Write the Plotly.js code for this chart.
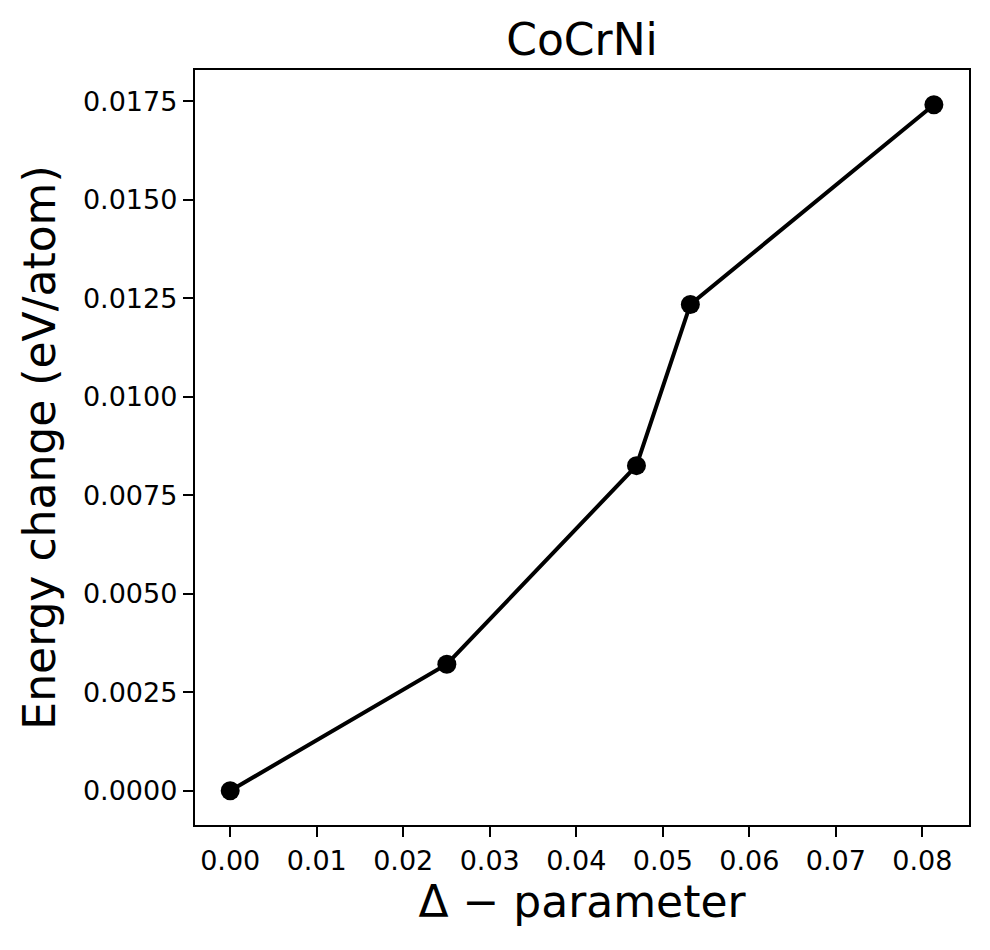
<!DOCTYPE html>
<html>
<head>
<meta charset="utf-8">
<script src="https://cdn.plot.ly/plotly-3.0.1.min.js"></script>
<style>
  html, body { margin: 0; padding: 0; background: #fff; }
  #plot { width: 990px; height: 950px; }
</style>
</head>
<body>
<div id="plot"></div>
<script>
const delta = [0.0, 0.02504, 0.04696, 0.05319, 0.08134];
const energy = [0.0, 0.00321, 0.00825, 0.01234, 0.01741];

const font = "DejaVu Sans, sans-serif";

const traces = [
  {
    type: "scatter", mode: "lines+markers",
    x: delta, y: energy,
    line: { color: "#000", width: 4 },
    marker: { color: "#000", size: 19 },
    showlegend: false
  }
];

const axisBase = {
  showline: true, mirror: true, linecolor: "#000", linewidth: 2.2,
  ticks: "outside", ticklen: 10, tickwidth: 2.2, tickcolor: "#000",
  showgrid: false, zeroline: false, autorange: false,
  tickfont: { family: font, size: 27, color: "#000" }
};

const layout = {
  width: 990, height: 950,
  margin: { l: 195, r: 21, t: 70, b: 125 },
  paper_bgcolor: "#fff", plot_bgcolor: "#fff",
  font: { family: font, color: "#000" },
  title: {
    text: "CoCrNi", font: { family: font, size: 44, color: "#000" },
    x: 0.5, xref: "paper", y: 1 - 40 / 950, yanchor: "middle"
  },
  xaxis: Object.assign({}, axisBase, {
    range: [-0.00407, 0.0854], tick0: 0, dtick: 0.01, tickformat: ".2f",
    title: { text: "\u0394 \u2212 parameter", font: { family: font, size: 44, color: "#000" }, standoff: 12 }
  }),
  yaxis: Object.assign({}, axisBase, {
    range: [-0.00087, 0.01829], tick0: 0, dtick: 0.0025, tickformat: ".4f",
    title: { text: "Energy change (eV/atom)", font: { family: font, size: 44, color: "#000" }, standoff: 14 }
  })
};

Plotly.newPlot("plot", traces, layout, { staticPlot: true });
</script>
</body>
</html>
